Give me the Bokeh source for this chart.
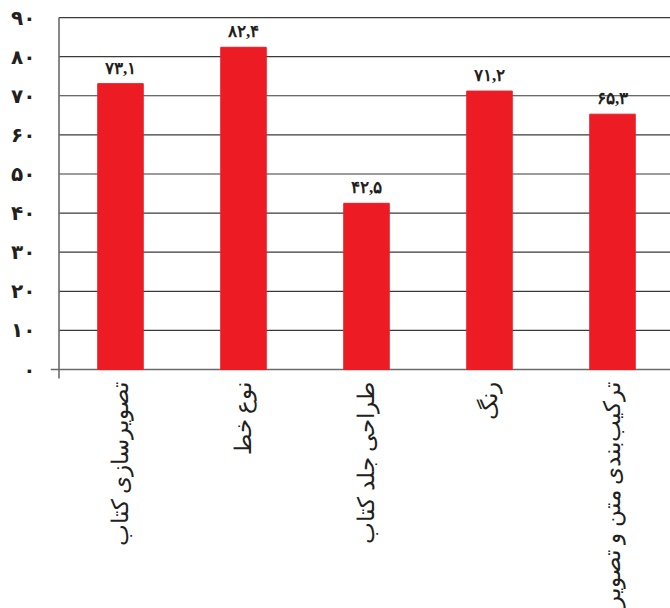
import math
from bokeh.plotting import figure
from bokeh.models import ColumnDataSource, Range1d, FixedTicker
from bokeh.embed import file_html
from bokeh.resources import INLINE

categories = ["تصویرسازی کتاب", "نوع خط", "طراحی جلد کتاب", "رنگ", "ترکیب‌بندی متن و تصویر"]
values = [73.1, 82.4, 42.5, 71.2, 65.3]
value_labels = ["۷۳,۱", "۸۲,۴", "۴۲,۵", "۷۱,۲", "۶۵,۳"]
y_ticks = [0, 10, 20, 30, 40, 50, 60, 70, 80, 90]
y_tick_labels = ["۰", "۱۰", "۲۰", "۳۰", "۴۰", "۵۰", "۶۰", "۷۰", "۸۰", "۹۰"]

x_pos = [i + 1 for i in range(len(categories))]

X_START, X_END = 0.4309, 5.4715
Y_START, Y_END = -61.1, 90.27
AXIS_X = 0.5
AXIS_BOTTOM = -2.3

src = ColumnDataSource(dict(x=x_pos, value=values, vlabel=value_labels, cat=categories))

p = figure(width=670, height=608, output_backend="svg", toolbar_location=None,
           x_range=Range1d(X_START, X_END), y_range=Range1d(Y_START, Y_END),
           min_border_left=50, min_border_right=0, min_border_top=16, min_border_bottom=0,
           x_axis_location=None)
p.outline_line_color = None
p.xgrid.visible = False
p.ygrid.visible = False
p.background_fill_color = "white"
p.border_fill_color = "white"

# grid lines (above zero) start at the y axis line
grid_y = y_ticks[1:]
p.segment(x0=[AXIS_X] * len(grid_y), x1=[X_END] * len(grid_y), y0=grid_y, y1=grid_y,
          line_color="#3a3a3a", line_width=1.2)

# zero baseline extends slightly left of the axis
p.segment(x0=[X_START], x1=[X_END], y0=[0], y1=[0], line_color="#6a6a6a", line_width=1.6)

# vertical axis line
p.segment(x0=[AXIS_X], x1=[AXIS_X], y0=[AXIS_BOTTOM], y1=[y_ticks[-1]],
          line_color="#6a6a6a", line_width=1.6)

p.vbar(x="x", top="value", bottom=0, width=0.37, color="#ed1c24", source=src)

p.text(x="x", y="value", text="vlabel", source=src,
       text_align="center", text_baseline="bottom", y_offset=-6,
       text_font="DejaVu Sans", text_font_style="bold",
       text_font_size="17px", text_color="#231f20")

p.text(x="x", y=0, text="cat", source=src, angle=math.pi / 2,
       text_align="right", text_baseline="middle", y_offset=12,
       text_font="DejaVu Sans", text_font_size="23px", text_color="#231f20")

ax = p.yaxis[0]
ax.ticker = FixedTicker(ticks=y_ticks)
ax.major_label_overrides = {t: l for t, l in zip(y_ticks, y_tick_labels)}
ax.axis_line_color = None
ax.major_tick_line_color = None
ax.minor_tick_line_color = None
ax.major_tick_out = 0
ax.major_tick_in = 0
ax.major_label_standoff = 15
ax.major_label_text_font = "DejaVu Sans"
ax.major_label_text_font_style = "bold"
ax.major_label_text_font_size = "20px"
ax.major_label_text_color = "#231f20"

open("out.html", "w").write(file_html(p, INLINE))
